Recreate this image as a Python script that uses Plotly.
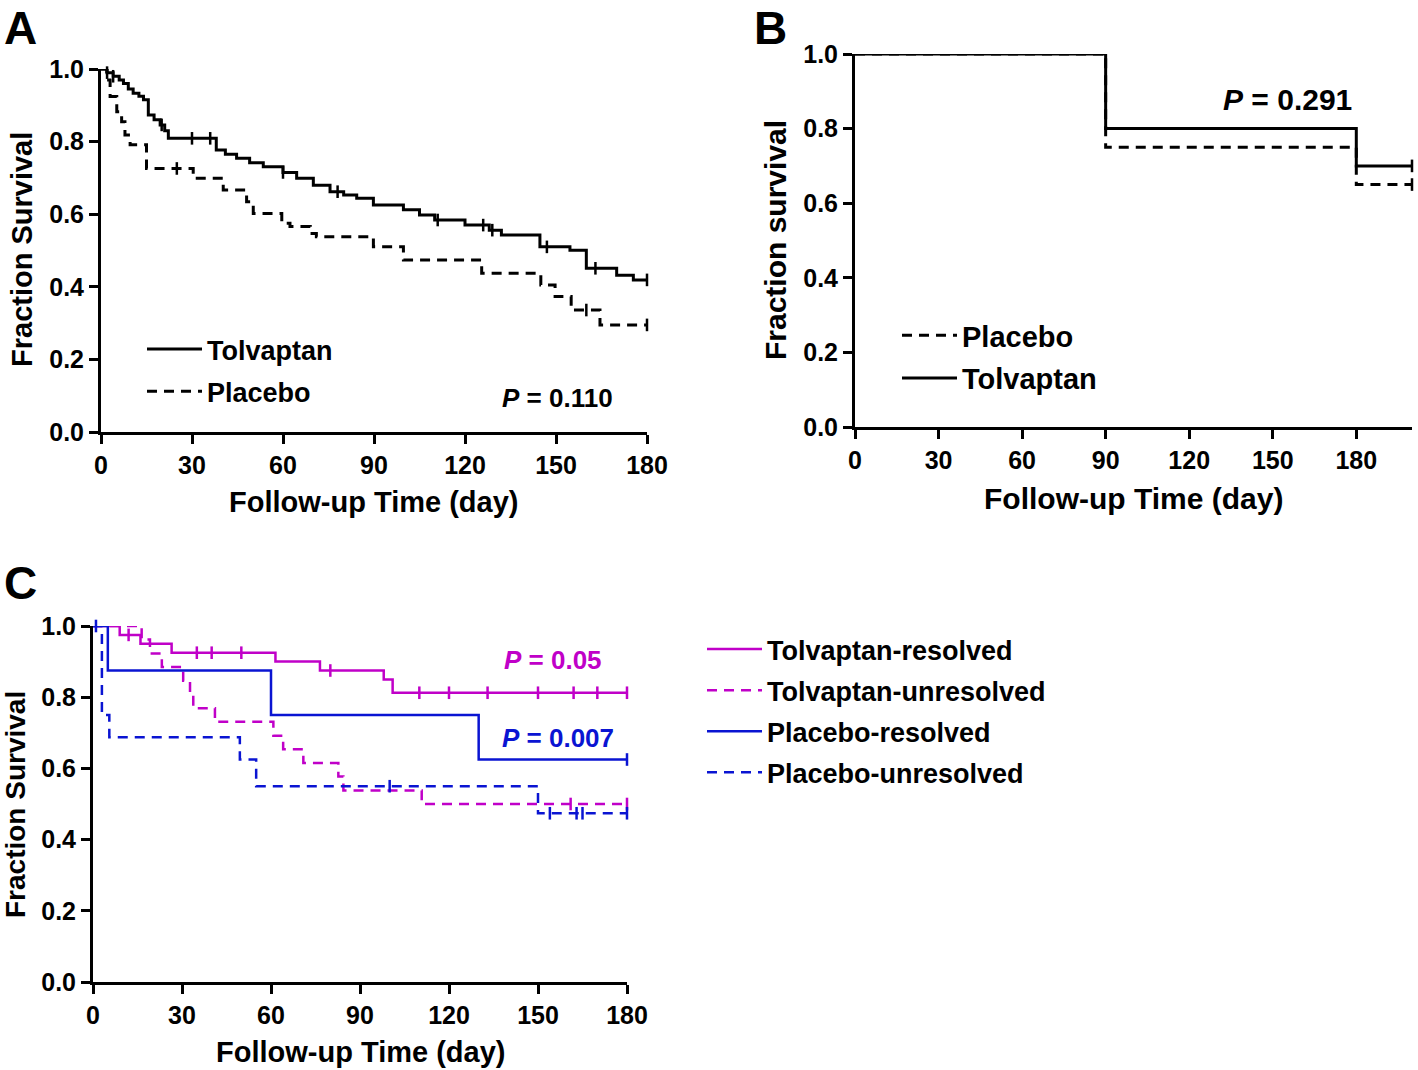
import plotly.graph_objects as go

# ---------------- Panel A data ----------------
a_tol_t = [0, 2, 4, 6, 7.4, 9, 10.6, 12.5, 14, 15.6, 17.5, 19.5, 21, 22.2, 38, 41, 44.7, 49, 53.5, 60,
           64.5, 70, 75.5, 80, 84.3, 89.8, 99.7, 105, 110, 120, 128, 132, 144.7, 154.6, 160, 170, 175.5, 180]
a_tol_s = [1.0, 0.99, 0.98, 0.97, 0.96, 0.945, 0.933, 0.925, 0.915, 0.873, 0.86, 0.846, 0.83, 0.809, 0.777,
           0.765, 0.754, 0.742, 0.731, 0.715, 0.699, 0.68, 0.662, 0.653, 0.644, 0.625, 0.612, 0.598, 0.584,
           0.570, 0.556, 0.543, 0.51, 0.501, 0.451, 0.432, 0.419, 0.419]
a_tol_cens_t = [2, 4, 20, 30, 36, 60, 78, 111, 126, 129, 147, 163, 180]
a_tol_cens_s = [0.99, 0.98, 0.846, 0.809, 0.809, 0.715, 0.662, 0.584, 0.570, 0.556, 0.51, 0.451, 0.419]

a_pla_t = [0, 1.9, 3, 5.2, 6.8, 7.9, 9.6, 15, 30.4, 40.3, 48, 50.2, 59.6, 62.3, 69, 71, 89.8, 99.7,
           125.5, 145, 149.7, 155, 164.5, 180]
a_pla_s = [1.0, 0.97, 0.924, 0.882, 0.855, 0.818, 0.791, 0.726, 0.699, 0.667, 0.634, 0.602, 0.575, 0.566,
           0.547, 0.538, 0.51, 0.474, 0.437, 0.405, 0.373, 0.336, 0.295, 0.295]
a_pla_cens_t = [25, 160, 180]
a_pla_cens_s = [0.726, 0.336, 0.295]

# ---------------- Panel B data ----------------
b_pla_t = [0, 90, 180, 200]
b_pla_s = [1.0, 0.75, 0.65, 0.65]
b_tol_t = [0, 90, 180, 200]
b_tol_s = [1.0, 0.80, 0.70, 0.70]
b_cens_t = [200]

# ---------------- Panel C data ----------------
c_tr_t = [0, 9, 16, 26.5, 61.5, 76.5, 98, 101, 180]
c_tr_s = [1.0, 0.975, 0.95, 0.925, 0.9, 0.875, 0.85, 0.8125, 0.8125]
c_tr_cens_t = [12, 35, 40, 50, 80, 110, 120, 133, 150, 162, 170, 180]
c_tr_cens_s = [0.975, 0.925, 0.925, 0.925, 0.875, 0.8125, 0.8125, 0.8125, 0.8125, 0.8125, 0.8125, 0.8125]

c_tu_t = [0, 16.4, 19.2, 23.2, 30.4, 32.7, 33.8, 41.1, 60.8, 64.1, 70.9, 82.7, 84.4, 110.8, 180]
c_tu_s = [1.0, 0.962, 0.923, 0.885, 0.846, 0.808, 0.769, 0.731, 0.692, 0.654, 0.615, 0.577, 0.538, 0.5, 0.5]
c_tu_cens_t = [161, 180]
c_tu_cens_s = [0.5, 0.5]

c_pr_t = [0, 5, 60, 130, 180]
c_pr_s = [1.0, 0.875, 0.75, 0.625, 0.625]
c_pr_cens_t = [180]
c_pr_cens_s = [0.625]

c_pu_t = [0, 3, 5.5, 49.5, 55, 150, 180]
c_pu_s = [1.0, 0.75, 0.6875, 0.625, 0.55, 0.474, 0.474]
c_pu_cens_t = [1, 100, 154, 163, 165, 180]
c_pu_cens_s = [1.0, 0.55, 0.474, 0.474, 0.474, 0.474]

x_ticks = [0, 30, 60, 90, 120, 150, 180]
y_ticks = [0.0, 0.2, 0.4, 0.6, 0.8, 1.0]
y_tick_text = ["0.0", "0.2", "0.4", "0.6", "0.8", "1.0"]

MAG = "#C000C8"
BLU = "#0A14D2"
BLK = "#000000"
FONT = "Liberation Sans, Arial, sans-serif"
DASH = "10px,7px"

fig = go.Figure()


def curve(t, s, color, dash, name, xa, ya, legend, width=3):
    fig.add_trace(go.Scatter(
        x=t, y=s, mode="lines", line=dict(color=color, width=width, dash=dash, shape="hv"),
        name=name, xaxis=xa, yaxis=ya, legend=legend, legendgroup=name, cliponaxis=False))


def censor(t, s, color, xa, ya):
    fig.add_trace(go.Scatter(
        x=t, y=s, mode="markers", showlegend=False, xaxis=xa, yaxis=ya, cliponaxis=False,
        marker=dict(symbol="line-ns", size=9, line=dict(color=color, width=2.5))))


# Panel A
curve(a_tol_t, a_tol_s, BLK, "solid", "<b>Tolvaptan</b>", "x", "y", "legend")
curve(a_pla_t, a_pla_s, BLK, DASH, "<b>Placebo</b>", "x", "y", "legend")
censor(a_tol_cens_t, a_tol_cens_s, BLK, "x", "y")
censor(a_pla_cens_t, a_pla_cens_s, BLK, "x", "y")

# Panel B
curve(b_pla_t, b_pla_s, BLK, DASH, "<b>Placebo</b>", "x2", "y2", "legend2")
curve(b_tol_t, b_tol_s, BLK, "solid", "<b>Tolvaptan</b>", "x2", "y2", "legend2")
censor(b_cens_t, [b_pla_s[-1]], BLK, "x2", "y2")
censor(b_cens_t, [b_tol_s[-1]], BLK, "x2", "y2")

# Panel C
curve(c_tr_t, c_tr_s, MAG, "solid", "<b>Tolvaptan-resolved</b>", "x3", "y3", "legend3", 2.5)
curve(c_tu_t, c_tu_s, MAG, DASH, "<b>Tolvaptan-unresolved</b>", "x3", "y3", "legend3", 2.5)
curve(c_pr_t, c_pr_s, BLU, "solid", "<b>Placebo-resolved</b>", "x3", "y3", "legend3", 2.5)
curve(c_pu_t, c_pu_s, BLU, DASH, "<b>Placebo-unresolved</b>", "x3", "y3", "legend3", 2.5)
censor(c_tr_cens_t, c_tr_cens_s, MAG, "x3", "y3")
censor(c_tu_cens_t, c_tu_cens_s, MAG, "x3", "y3")
censor(c_pr_cens_t, c_pr_cens_s, BLU, "x3", "y3")
censor(c_pu_cens_t, c_pu_cens_s, BLU, "x3", "y3")

W, H = 1418, 1070


def px(x):
    return x / W


def py(y):
    return 1 - y / H


axis_common = dict(showline=True, linecolor="black", linewidth=3, ticks="outside", ticklen=9,
                   tickwidth=3, tickcolor="black", showgrid=False, zeroline=False, automargin=False,
                   tickfont=dict(family=FONT, size=25, color="black", weight="bold"))

fig.update_layout(
    width=W, height=H, margin=dict(l=0, r=0, t=0, b=0, pad=0, autoexpand=False),
    paper_bgcolor="white", plot_bgcolor="white",
    font=dict(family=FONT, color="black"),
    xaxis=dict(domain=[px(101), px(647)], range=[0, 180], tickvals=x_ticks, anchor="y", **axis_common),
    yaxis=dict(domain=[py(432), py(69)], range=[0, 1.0], tickvals=y_ticks, ticktext=y_tick_text,
               anchor="x", **axis_common),
    xaxis2=dict(domain=[px(855), px(1412)], range=[0, 200], tickvals=x_ticks, anchor="y2", **axis_common),
    yaxis2=dict(domain=[py(427), py(54)], range=[0, 1.0], tickvals=y_ticks, ticktext=y_tick_text,
                anchor="x2", **axis_common),
    xaxis3=dict(domain=[px(93), px(627)], range=[0, 180], tickvals=x_ticks, anchor="y3", **axis_common),
    yaxis3=dict(domain=[py(982), py(626)], range=[0, 1.0], tickvals=y_ticks, ticktext=y_tick_text,
                anchor="x3", **axis_common),
    legend=dict(x=px(142), y=py(325), xanchor="left", yanchor="top", bgcolor="rgba(0,0,0,0)",
                font=dict(family=FONT, size=27, color="black"), tracegroupgap=4, traceorder="grouped",
                itemwidth=55),
    legend2=dict(x=px(897), y=py(310), xanchor="left", yanchor="top", bgcolor="rgba(0,0,0,0)",
                 font=dict(family=FONT, size=29, color="black"), tracegroupgap=2, traceorder="grouped",
                 itemwidth=55),
    legend3=dict(x=px(702), y=py(625), xanchor="left", yanchor="top", bgcolor="rgba(0,0,0,0)",
                 font=dict(family=FONT, size=27, color="black"), tracegroupgap=3, traceorder="grouped",
                 itemwidth=55),
)


def ann(text, x, y, size, bold=True, color="black", angle=0, yanchor="middle"):
    fig.add_annotation(text=f"<b>{text}</b>" if bold else text, x=px(x), y=py(y), xref="paper",
                       yref="paper", showarrow=False, xanchor="center", yanchor=yanchor,
                       textangle=angle, font=dict(family=FONT, size=size, color=color))


# panel letters
ann("A", 20, 0, 46, yanchor="top")
ann("B", 770, 0, 46, yanchor="top")
ann("C", 20, 555, 46, yanchor="top")

# axis titles
ann("Fraction Survival", 22, 250, 29, angle=-90)
ann("Follow-up Time (day)", 374, 502, 29)
ann("Fraction survival", 775, 240, 30, angle=-90)
ann("Follow-up Time (day)", 1133, 498, 30)
ann("Fraction Survival", 15, 805, 28, angle=-90)
ann("Follow-up Time (day)", 360, 1070, 29, yanchor="bottom")

# p-values
ann("<i>P</i> = 0.110", 557, 398, 26)
ann("<i>P</i> = 0.291", 1287, 99, 30)
ann("<i>P</i> = 0.05", 553, 660, 26, color=MAG)
ann("<i>P</i> = 0.007", 558, 738, 26, color=BLU)

fig.write_html("out.html", config={"displayModeBar": False},
               post_script="document.body.style.margin='0px';")
